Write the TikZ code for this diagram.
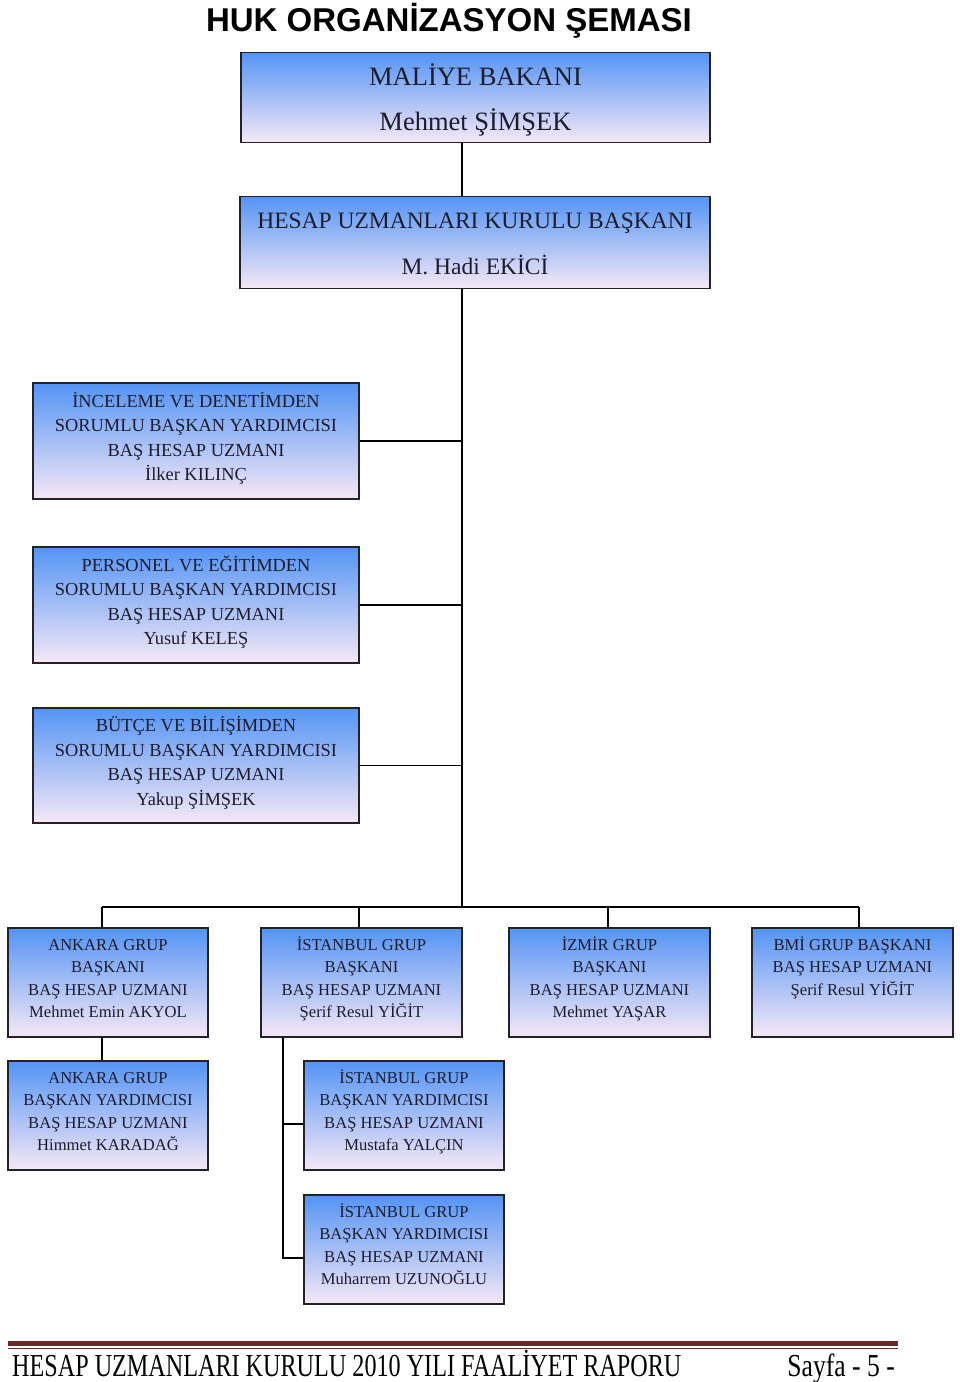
\documentclass[tikz,border=0pt]{standalone}
\usepackage{fontspec}
\setmainfont{Liberation Serif}
\newfontfamily\titlefont{Liberation Sans}
\definecolor{boxtop}{RGB}{84,148,244}
\definecolor{boxmid}{RGB}{170,202,250}
\definecolor{boxbot}{RGB}{246,232,246}
\definecolor{boxline}{RGB}{34,34,40}
\definecolor{boxtext}{RGB}{28,28,44}
\definecolor{footred}{RGB}{112,40,42}
\newcommand{\bxtext}[2]{\raisebox{#1}[\height][\depth]{\begin{tabular}{@{}c@{}}#2\end{tabular}}}
\tikzset{
  orgbox/.style={draw=boxline, line width=1.6pt, top color=boxtop, middle color=boxmid, bottom color=boxbot, align=center, text=boxtext, inner sep=0pt},
  bigbox/.style={orgbox, minimum width=469pt, minimum height=87pt, font=\fontsize{23.5}{46}\selectfont},
  midbox/.style={orgbox, minimum width=326pt, minimum height=116pt, font=\fontsize{18.4}{24.5}\selectfont},
  smallbox/.style={orgbox, minimum width=200pt, minimum height=109pt, font=\fontsize{16.6}{22.4}\selectfont},
  conn/.style={draw=black, line width=1.8pt}
}
\begin{document}
\begin{tikzpicture}[x=1pt,y=-1pt]
\useasboundingbox[fill=white] (0,0) rectangle (960,1382);

\node[anchor=base, font=\titlefont\bfseries\fontsize{33}{36}\selectfont] (title) at (449,31) {HUK ORGANİZASYON ŞEMASI};

\node[bigbox, font=\fontsize{26.5}{45}\selectfont] (min) at (475.5,97.5) {\bxtext{-1pt}{MALİYE BAKANI\\Mehmet ŞİMŞEK}};
\node[bigbox, minimum width=470pt] (huk) at (475,242.5) {\bxtext{0pt}{HESAP UZMANLARI KURULU BAŞKANI\\M. Hadi EKİCİ}};

\node[midbox] (inc) at (196,441) {\bxtext{2pt}{İNCELEME VE DENETİMDEN\\SORUMLU BAŞKAN YARDIMCISI\\BAŞ HESAP UZMANI\\İlker KILINÇ}};
\node[midbox] (per) at (196,605) {\bxtext{2pt}{PERSONEL VE EĞİTİMDEN\\SORUMLU BAŞKAN YARDIMCISI\\BAŞ HESAP UZMANI\\Yusuf KELEŞ}};
\node[midbox, minimum height=115pt] (but) at (196,765.5) {\bxtext{2pt}{BÜTÇE VE BİLİŞİMDEN\\SORUMLU BAŞKAN YARDIMCISI\\BAŞ HESAP UZMANI\\Yakup ŞİMŞEK}};

\node[smallbox] (ank) at (108,982.5) {\bxtext{3pt}{ANKARA GRUP\\BAŞKANI\\BAŞ HESAP UZMANI\\Mehmet Emin AKYOL}};
\node[smallbox, minimum width=201pt] (ist) at (361.5,982.5) {\bxtext{3pt}{İSTANBUL GRUP\\BAŞKANI\\BAŞ HESAP UZMANI\\Şerif Resul YİĞİT}};
\node[smallbox, minimum width=201pt] (izm) at (609.5,982.5) {\bxtext{3pt}{İZMİR GRUP\\BAŞKANI\\BAŞ HESAP UZMANI\\Mehmet YAŞAR}};
\node[smallbox, minimum width=201pt] (bmi) at (852.5,982.5) {\bxtext{3pt}{BMİ GRUP BAŞKANI\\BAŞ HESAP UZMANI\\Şerif Resul YİĞİT\\\strut}};

\node[smallbox] (ankby) at (108,1115.5) {\bxtext{3pt}{ANKARA GRUP\\BAŞKAN YARDIMCISI\\BAŞ HESAP UZMANI\\Himmet KARADAĞ}};
\node[smallbox] (istby1) at (404,1115.5) {\bxtext{3pt}{İSTANBUL GRUP\\BAŞKAN YARDIMCISI\\BAŞ HESAP UZMANI\\Mustafa YALÇIN}};
\node[smallbox] (istby2) at (404,1249.5) {\bxtext{3pt}{İSTANBUL GRUP\\BAŞKAN YARDIMCISI\\BAŞ HESAP UZMANI\\Muharrem UZUNOĞLU}};

% connectors
\coordinate (tx) at (462,907);
\coordinate (d1) at (102,907);
\coordinate (d2) at (359,907);
\coordinate (d3) at (608,907);
\coordinate (d4) at (859,907);
\coordinate (b1) at (283,1124);
\coordinate (b2) at (283,1258);

\draw[conn] (min.south -| tx) -- (huk.north -| tx);
\draw[conn] (huk.south -| tx) -- (tx);
\draw[conn] (inc.east) -- (inc.east -| tx);
\draw[conn] (per.east) -- (per.east -| tx);
\draw[conn] (but.east) -- (but.east -| tx);
\draw[conn] (d1) -- (d4);
\draw[conn] (d1) -- (ank.north -| d1);
\draw[conn] (d2) -- (ist.north -| d2);
\draw[conn] (d3) -- (izm.north -| d3);
\draw[conn] (d4) -- (bmi.north -| d4);
\draw[conn] (ank.south -| d1) -- (ankby.north -| d1);
\draw[conn] (ist.south -| b1) -- (b2) -- (b2 -| istby2.west);
\draw[conn] (b1) -- (b1 -| istby1.west);

% footer
\fill[footred] (8,1341) rectangle (898,1346);
\draw[footred, line width=0.8pt] (8,1348.2) -- (898,1348.2);
\node[anchor=base west, inner sep=0pt, font=\fontsize{32}{36}\selectfont] (foot) at (12,1376) {\scalebox{0.755}[1]{HESAP UZMANLARI KURULU 2010 YILI FAALİYET RAPORU}};
\node[anchor=base east, inner sep=0pt, font=\fontsize{32}{36}\selectfont] (page) at (895,1376) {\scalebox{0.8}[1]{Sayfa - 5 -}};
\end{tikzpicture}
\end{document}
